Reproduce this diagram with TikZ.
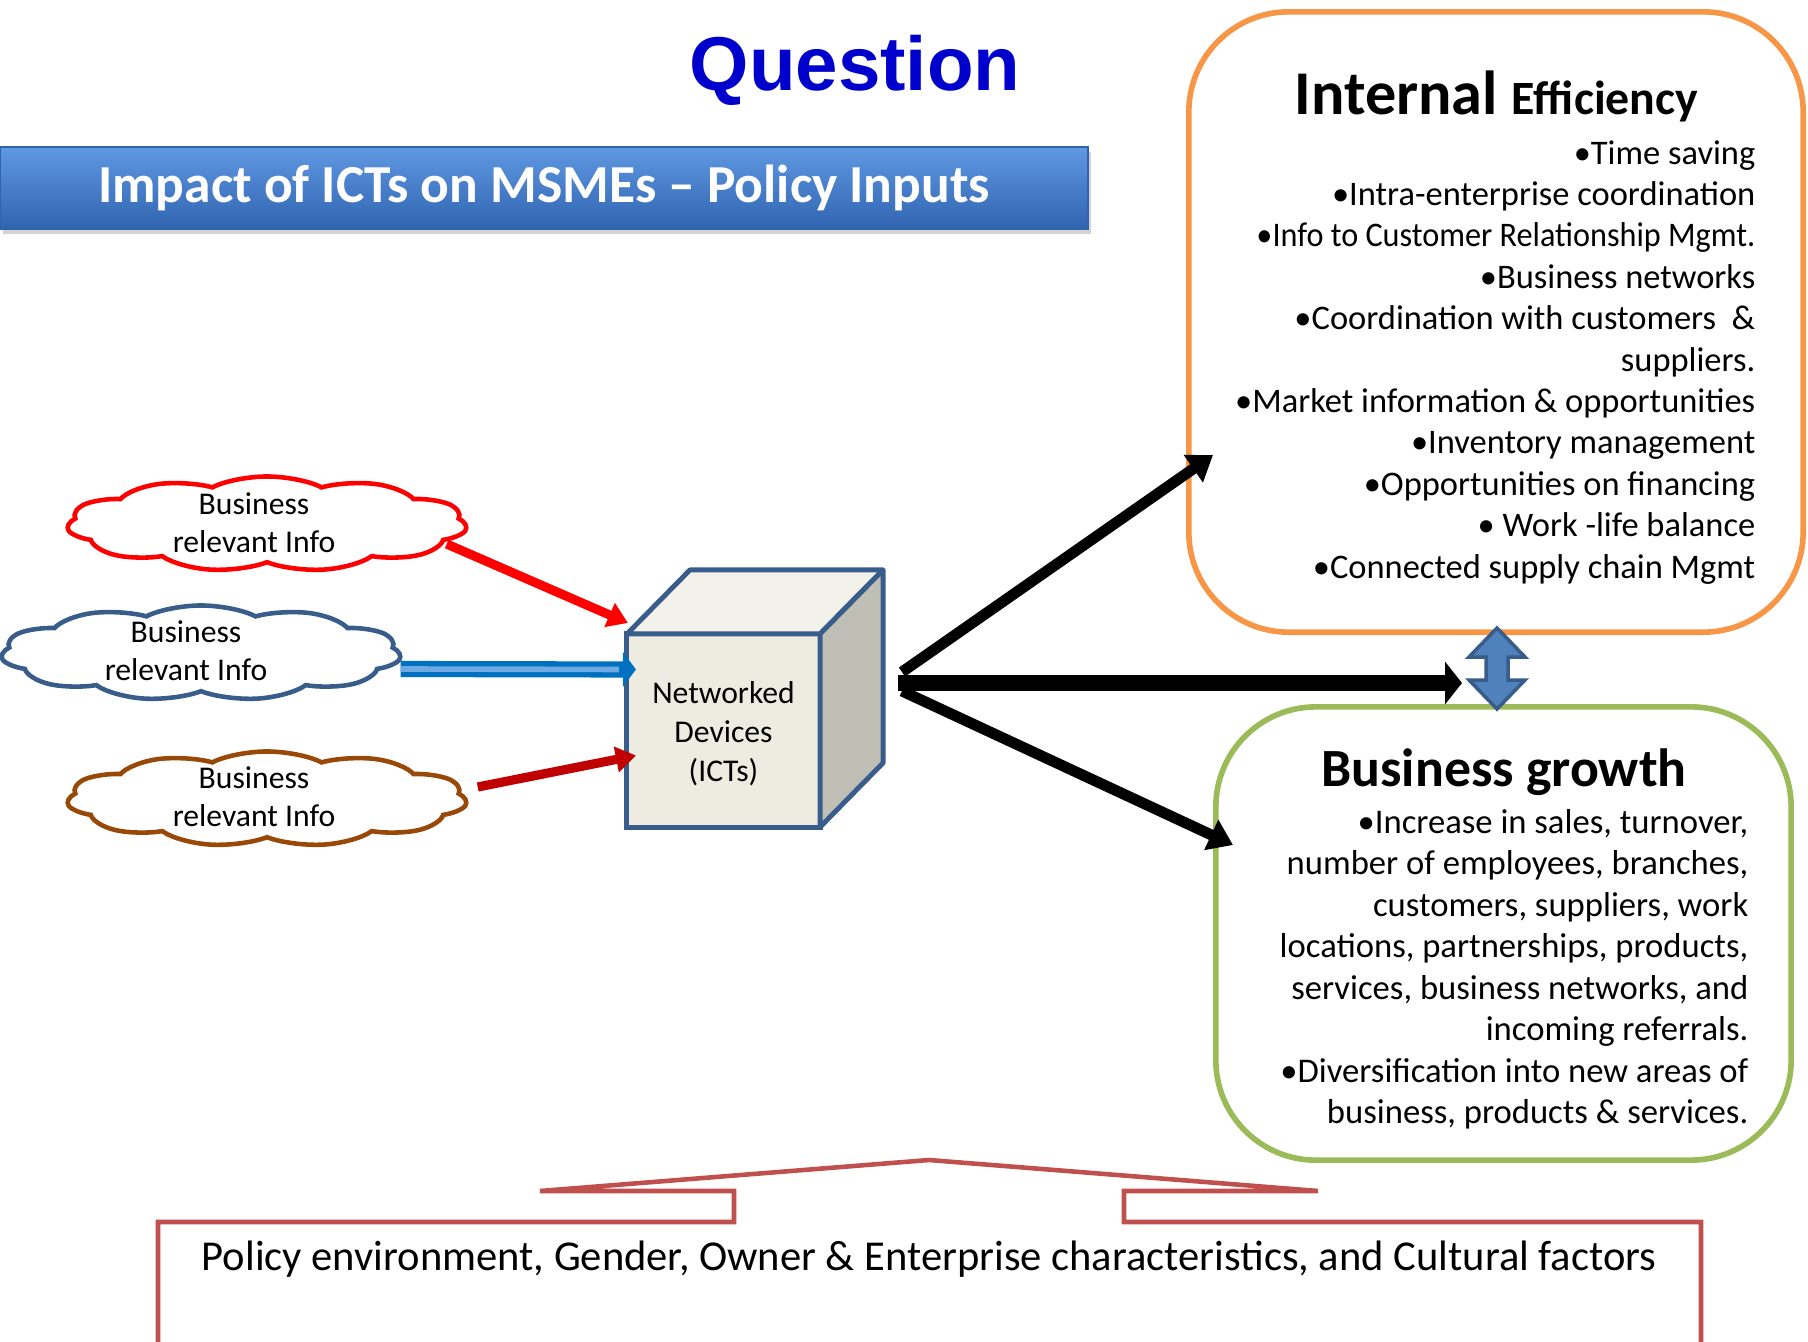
\documentclass[tikz,border=0pt]{standalone}
\usepackage{fontspec}
\usepackage{graphicx}
\setmainfont{Carlito}
\newfontfamily\qfont{Liberation Sans}
\usetikzlibrary{shapes.symbols,arrows.meta,calc,shadows}

\definecolor{qblue}{RGB}{0,0,204}
\definecolor{ieorange}{RGB}{247,150,70}
\definecolor{bggreen}{RGB}{155,187,89}
\definecolor{cubeline}{RGB}{56,93,138}
\definecolor{cubefront}{RGB}{238,236,225}
\definecolor{cubetop}{RGB}{242,241,234}
\definecolor{cubeside}{RGB}{192,191,182}
\definecolor{cloudbrown}{RGB}{152,72,7}
\definecolor{arrowblue}{RGB}{0,112,192}
\definecolor{arrowlight}{RGB}{110,170,225}
\definecolor{darkred}{RGB}{192,0,0}
\definecolor{policyred}{RGB}{192,80,77}
\definecolor{dblfill}{RGB}{79,129,189}
\definecolor{bantop}{RGB}{96,152,226}
\definecolor{banbot}{RGB}{48,100,176}

\begin{document}
\begin{tikzpicture}[x=0.01cm,y=-0.01cm,
    cloudy/.style={cloud, cloud puffs=11, cloud puff arc=110, aspect=1.6, line width=1.3pt,
      minimum width=1.54cm, minimum height=0.95cm, inner sep=0pt},
    cloudtxt/.style={align=center, inner sep=0pt, font=\fontsize{9}{10.8}\selectfont},
    inarrow/.style={line width=2.6pt, -{Triangle[length=0.2cm,width=0.25cm]}},
    outarrow/.style={line width=3.1pt, -{Triangle[length=0.24cm,width=0.32cm]}},
    itemtxt/.style={anchor=base east, inner sep=0pt},
    bigbox/.style={rounded corners=1cm, line width=1.6pt}]

  \useasboundingbox (0,0) rectangle (1808,1342);

  % heading and banner
  \node[anchor=base, inner sep=0pt, text=qblue,
    font=\qfont\bfseries\fontsize{21.7}{26}\selectfont] (quest) at (855,90) {Question};
  \node[minimum width=10.88cm, minimum height=0.82cm, inner sep=0pt,
    top color=bantop, bottom color=banbot, draw=banbot, line width=0.6pt,
    drop shadow={shadow xshift=0.03cm, shadow yshift=-0.05cm, opacity=0.35},
    text=white, font=\bfseries\fontsize{15.2}{18}\selectfont] (banner) at (544,188)
    {Impact of ICTs on MSMEs -- Policy Inputs};

  % clouds
  \foreach \i/\p/\c in {1/{267,524}/red, 2/{201,653}/cubeline, 3/{267,799}/cloudbrown}
    \node[cloudy, draw=\c, shift={(\p)}, xscale=2.6, transform shape] (c\i) at (0,0) {};
  \node[cloudtxt] (t1) at (254,523) {Business\\relevant Info};
  \node[cloudtxt] (t2) at (186,651) {Business\\relevant Info};
  \node[cloudtxt] (t3) at (254,797) {Business\\relevant Info};

  % cube
  \node[draw=cubeline, fill=cubefront, line width=1.4pt, outer sep=0pt, inner sep=0pt,
    minimum width=1.93cm, minimum height=1.93cm, align=center,
    font=\fontsize{9}{11}\selectfont] (dev) at (723.5,730.5) {\\[-3pt]Networked\\Devices\\(ICTs)};
  \draw[draw=cubeline, fill=cubetop, line width=1.4pt, line join=round]
    (dev.north west) -- ++(63,-64) -- ++(193,0) -- (dev.north east) -- cycle;
  \draw[draw=cubeline, fill=cubeside, line width=1.4pt, line join=round]
    (dev.north east) -- ++(63,-64) -- ++(0,193) -- (dev.south east) -- cycle;

  % inputs
  \draw[inarrow, red] ($(c1.east)+(-25,20)$) -- ($(dev.north west)+(1,-11)$);
  \coordinate (bs) at ($(c2.east)+(-5,16)$);
  \coordinate (be) at ($(dev.west)+(9,-61)$);
  \draw[line width=4.6pt, arrowblue, -{Triangle[length=0.13cm,width=0.34cm]}] (bs) -- (be);
  \draw[line width=1.6pt, arrowlight, shorten >=0.17cm] (bs) -- (be);
  \draw[inarrow, darkred] ($(c3.east)+(6,-12)$) -- ($(dev.west)+(9,25)$);

  % boxes
  \node[draw=ieorange, bigbox, minimum width=6.14cm, minimum height=6.2cm] (ie) at (1496,322) {};
  \node[draw=bggreen, bigbox, minimum width=5.75cm, minimum height=4.53cm] (bg) at (1503.5,933.5) {};

  \node[anchor=base west, inner sep=0pt] (iet) at (1294,114)
    {\fontsize{17.7}{21}\selectfont\bfseries Internal {\fontsize{13.6}{16}\selectfont Efficiency}};
  \foreach \t [count=\i] in {{•Time saving}, {•Intra-enterprise coordination},
      {\scalebox{0.935}[1]{•Info to Customer Relationship Mgmt.}}, {•Business networks},
      {•Coordination with customers~~\&}, {suppliers.},
      {•Market information \& opportunities}, {•Inventory management},
      {•Opportunities on financing}, {• Work -life balance}, {•Connected supply chain Mgmt}}
    \node[itemtxt, font=\fontsize{9.8}{11.6}\selectfont] (ie\i) at (1756,{164+41.4*(\i-1)}) {\t};

  \node[anchor=base, inner sep=0pt, font=\fontsize{15.3}{18}\selectfont\bfseries] (bgt) at (1504,786)
    {Business growth};
  \foreach \t [count=\i] in {{•Increase in sales, turnover,}, {number of employees, branches,},
      {customers, suppliers, work}, {locations, partnerships, products,},
      {services, business networks, and}, {incoming referrals.},
      {•Diversification into new areas of}, {business, products \& services.}}
    \node[itemtxt, font=\fontsize{9.85}{11.8}\selectfont] (bg\i) at (1749,{833+41.5*(\i-1)}) {\t};

  % outputs
  \coordinate (hub) at (898,683);
  \coordinate (ietip) at (1213,455);
  \coordinate (bgtip) at (1233,845);
  \coordinate (dbltip) at (1462,683);
  \draw[outarrow] ($(hub)+(4,-11)$) -- (ietip);
  \draw[outarrow] ($(hub)+(4,8)$) -- (bgtip);
  \draw[line width=4.8pt, -{Triangle[length=0.17cm,width=0.42cm]}] (hub) -- (dbltip);

  % link between boxes
  \filldraw[fill=dblfill, draw=cubeline, line width=1pt]
    (1497,628) -- (1525,657) -- (1508,657) -- (1508,680) -- (1525,680) -- (1497,709)
    -- (1469,680) -- (1486,680) -- (1486,657) -- (1469,657) -- cycle;

  % context
  \draw[policyred, line width=1.3pt] (158,1360) -- (158,1222) -- (734,1222) -- (734,1191)
    -- (540,1191) -- (929,1160) -- (1318,1191) -- (1124,1191) -- (1124,1222)
    -- (1701,1222) -- (1701,1360);
  \node[anchor=base, inner sep=0pt, font=\fontsize{12.1}{14.5}\selectfont] (pol) at (929,1270)
    {Policy environment, Gender, Owner \& Enterprise characteristics, and Cultural factors};
\end{tikzpicture}
\end{document}
